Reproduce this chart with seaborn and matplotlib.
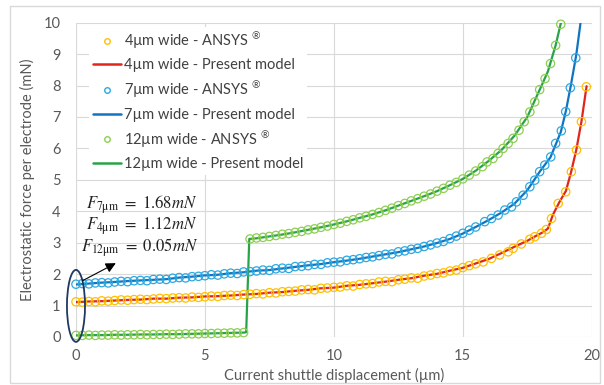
import matplotlib
matplotlib.use("Agg")
import matplotlib.pyplot as plt
from matplotlib.lines import Line2D
from matplotlib.patches import Ellipse, Rectangle
import seaborn as sns

# ---- 4um wide electrode ----
ansys4_x = [0, 0.25, 0.5, 0.75, 1, 1.25, 1.5, 1.75, 2, 2.25, 2.5, 2.75, 3, 3.25, 3.5, 3.75,
            4, 4.25, 4.5, 4.75, 5, 5.25, 5.5, 5.75, 6, 6.25, 6.5, 6.75, 7, 7.25, 7.5, 7.75,
            8, 8.25, 8.5, 8.75, 9, 9.25, 9.5, 9.75, 10, 10.25, 10.5, 10.75, 11, 11.25, 11.5, 11.75,
            12, 12.25, 12.5, 12.75, 13, 13.25, 13.5, 13.75, 14, 14.25, 14.5, 14.75, 15, 15.25, 15.5,
            15.79, 16.11, 16.43, 16.76, 16.95, 17.27, 17.6, 17.79, 18.05, 18.24, 18.44, 18.7,
            18.99, 19.21, 19.41, 19.6, 19.79]
ansys4_y = [1.12, 1.11, 1.13, 1.12, 1.15, 1.14, 1.16, 1.18, 1.17, 1.19,
            1.20, 1.19, 1.21, 1.23, 1.22, 1.24, 1.25, 1.24, 1.27, 1.26,
            1.28, 1.30, 1.29, 1.32, 1.33, 1.32, 1.35, 1.36, 1.38, 1.37,
            1.41, 1.40, 1.44, 1.45, 1.46, 1.50, 1.51, 1.50, 1.55, 1.56,
            1.58, 1.59, 1.63, 1.62, 1.67, 1.69, 1.70, 1.75, 1.77, 1.76,
            1.82, 1.84, 1.88, 1.87, 1.94, 1.97, 2.02, 2.04, 2.10, 2.13,
            2.21, 2.27, 2.33,
            2.39, 2.50, 2.61, 2.71, 2.82, 2.96, 3.11, 3.19, 3.30, 3.42, 3.77, 4.25,
            4.62, 5.26, 5.95, 6.85, 7.96]
model4_x = [0, 0.5, 1, 1.5, 2, 2.5, 3, 3.5, 4, 4.5, 5, 5.5, 6, 6.5, 7, 7.5, 8, 8.5, 9, 9.5,
            10, 10.5, 11, 11.5, 12, 12.5, 13, 13.5, 14, 14.5, 15, 15.5, 16,
            16.5, 17, 17.5, 17.8, 18.1, 18.3, 18.5, 18.75, 19, 19.2, 19.4, 19.6, 19.8]
model4_y = [1.11, 1.13, 1.14, 1.16, 1.18, 1.19, 1.22, 1.22, 1.25, 1.26,
            1.29, 1.30, 1.32, 1.35, 1.37, 1.41, 1.43, 1.47, 1.50, 1.55,
            1.57, 1.63, 1.66, 1.71, 1.76, 1.82, 1.87, 1.95, 2.01, 2.11,
            2.20, 2.34, 2.48,
            2.67, 2.87, 3.06, 3.20, 3.33, 3.45, 3.90, 4.30, 4.65, 5.25, 5.95, 6.85, 7.98]

# ---- 7um wide electrode ----
ansys7_x = [0, 0.25, 0.5, 0.75, 1, 1.25, 1.5, 1.75, 2, 2.25, 2.5, 2.75, 3, 3.25, 3.5, 3.75,
            4, 4.25, 4.5, 4.75, 5, 5.25, 5.5, 5.75, 6, 6.25, 6.5, 6.75, 7, 7.25, 7.5, 7.75,
            8, 8.25, 8.5, 8.75, 9, 9.25, 9.5, 9.75, 10, 10.25, 10.5, 10.75, 11, 11.25, 11.5, 11.75,
            12, 12.25, 12.5, 12.75, 13, 13.25, 13.5, 13.75, 14, 14.25, 14.5, 14.75, 15, 15.25, 15.5,
            15.85, 16.11, 16.37, 16.63, 16.89, 17.08, 17.34, 17.6, 17.79, 17.98, 18.18, 18.41,
            18.6, 18.82, 18.99, 19.17, 19.38]
ansys7_y = [1.68, 1.70, 1.69, 1.72, 1.73, 1.72, 1.75, 1.77, 1.76, 1.79,
            1.80, 1.79, 1.83, 1.84, 1.83, 1.87, 1.89, 1.88, 1.92, 1.93,
            1.95, 1.98, 1.97, 2.01, 2.03, 2.02, 2.07, 2.08, 2.10, 2.13,
            2.12, 2.17, 2.19, 2.18, 2.24, 2.25, 2.27, 2.31, 2.31, 2.36,
            2.38, 2.39, 2.44, 2.46, 2.49, 2.53, 2.55, 2.59, 2.63, 2.64,
            2.71, 2.74, 2.79, 2.82, 2.88, 2.93, 2.99, 3.04, 3.13, 3.21,
            3.30, 3.40, 3.50,
            3.67, 3.77, 3.88, 4.04, 4.14, 4.30, 4.51, 4.78, 4.99, 5.26, 5.47, 5.73,
            6.16, 6.56, 7.17, 7.93, 8.88]
model7_x = [0, 0.5, 1, 1.5, 2, 2.5, 3, 3.5, 4, 4.5, 5, 5.5, 6, 6.5, 7, 7.5, 8, 8.5, 9, 9.5,
            10, 10.5, 11, 11.5, 12, 12.5, 13, 13.5, 14, 14.5, 15, 15.5, 16,
            16.5, 17, 17.5, 18, 18.4, 18.8, 19.0, 19.2, 19.4, 19.55, 19.62]
model7_y = [1.67, 1.70, 1.73, 1.75, 1.78, 1.80, 1.82, 1.84, 1.89, 1.92,
            1.96, 1.98, 2.03, 2.06, 2.11, 2.13, 2.18, 2.23, 2.28, 2.32,
            2.38, 2.43, 2.49, 2.56, 2.63, 2.70, 2.79, 2.88, 2.99, 3.12,
            3.29, 3.50, 3.72,
            3.96, 4.24, 4.67, 5.28, 5.72, 6.52, 7.20, 8.05, 8.98, 9.90, 10.40]

# ---- 12um wide electrode ----
ansys12_x = [0, 0.25, 0.5, 0.75, 1, 1.25, 1.5, 1.75, 2, 2.25, 2.5, 2.75, 3, 3.25, 3.5, 3.75,
             4, 4.25, 4.5, 4.75, 5, 5.25, 5.5, 5.75, 6, 6.25, 6.5,
             6.75, 7, 7.25, 7.5, 7.75, 8, 8.25, 8.5, 8.75, 9, 9.25, 9.5, 9.75, 10, 10.25, 10.5,
             10.75, 11, 11.25, 11.5, 11.75, 12, 12.25, 12.5, 12.75, 13, 13.25, 13.5, 13.75, 14,
             14.25, 14.5, 14.75, 15, 15.25, 15.5,
             15.76, 15.94, 16.17, 16.37, 16.56, 16.76, 16.95, 17.18, 17.38, 17.6, 17.79, 17.98,
             18.19, 18.4, 18.6, 18.8]
ansys12_y = [0.05, 0.05, 0.06, 0.05, 0.06, 0.06, 0.07, 0.06, 0.07, 0.07,
             0.08, 0.07, 0.08, 0.08, 0.09, 0.08, 0.09, 0.10, 0.10, 0.10,
             0.11, 0.11, 0.12, 0.12, 0.13, 0.13, 0.14,
             3.12, 3.15, 3.17, 3.20, 3.23, 3.27, 3.29, 3.33, 3.36, 3.41,
             3.44, 3.49, 3.53, 3.58, 3.62, 3.68, 3.73, 3.79, 3.84, 3.90,
             3.96, 4.03, 4.10, 4.18, 4.25, 4.33, 4.40, 4.48, 4.55, 4.64,
             4.73, 4.83, 4.92, 5.03, 5.15, 5.28,
             5.42, 5.57, 5.68, 5.84, 6.00, 6.16, 6.32, 6.58, 6.85, 7.16, 7.48, 7.87,
             8.22, 8.70, 9.28, 9.95]
model12_x = [0, 0.5, 1, 1.5, 2, 2.5, 3, 3.5, 4, 4.5, 5, 5.5, 6, 6.5, 6.6, 6.72,
             7, 7.5, 8, 8.5, 9, 9.5, 10, 10.5, 11, 11.5, 12, 12.5, 13, 13.5, 14, 14.5, 15, 15.5,
             16, 16.5, 17, 17.5, 18, 18.3, 18.6, 18.82]
model12_y = [0.05, 0.06, 0.06, 0.07, 0.07, 0.08, 0.08, 0.09, 0.09, 0.10, 0.11, 0.12, 0.13, 0.14,
             0.15, 3.12,
             3.14, 3.20, 3.26, 3.33, 3.41, 3.49, 3.58, 3.68, 3.79, 3.90, 4.03, 4.18, 4.33, 4.48,
             4.64, 4.83, 5.03, 5.29,
             5.60, 5.95, 6.40, 7.00, 7.90, 8.45, 9.28, 10.05]

labels = [r"4µm wide - ANSYS $^{\mathregular{®}}$", "4µm wide - Present model",
          r"7µm wide - ANSYS $^{\mathregular{®}}$", "7µm wide - Present model",
          r"12µm wide - ANSYS $^{\mathregular{®}}$", "12µm wide - Present model"]

sns.set_style("white")
plt.rcParams['font.family'] = ['Lato', 'DejaVu Sans']
plt.rcParams['mathtext.fontset'] = 'stix'

fig = plt.figure(figsize=(6.04, 3.85), dpi=100)
ax = fig.add_axes([0.1258, 0.1247, 0.8539, 0.8163])

series = [
    (ansys4_x, ansys4_y, model4_x, model4_y, '#FFC000', '#E0261B'),
    (ansys7_x, ansys7_y, model7_x, model7_y, '#2EA8E0', '#0F75C3'),
    (ansys12_x, ansys12_y, model12_x, model12_y, '#8DCF50', '#27A349'),
]
for ax_x, ax_y, m_x, m_y, c_pts, c_line in series:
    sns.lineplot(x=m_x, y=m_y, sort=False, estimator=None, color=c_line, lw=1.6,
                 ax=ax, legend=False, zorder=3)
    sns.scatterplot(x=ax_x, y=ax_y, marker='o', s=36, facecolor='none', edgecolor=c_pts,
                    linewidth=0.9, ax=ax, legend=False, zorder=4, clip_on=False)

ax.set_xlim(0, 20)
ax.set_ylim(0, 10)
ax.set_xticks([0, 5, 10, 15, 20])
ax.set_yticks(range(0, 11))
ax.grid(True, color='#D9D9D9', lw=0.8)
ax.set_axisbelow(True)
for s in ax.spines.values():
    s.set_visible(False)
ax.tick_params(length=0, labelsize=10.5, labelcolor='#595959')
ax.tick_params(axis='y', pad=11)
ax.tick_params(axis='x', pad=9)
ax.set_xlabel("Current shuttle displacement (µm)", fontsize=10.5, color='#595959', labelpad=3)
ax.set_ylabel("Electrostatic force per electrode (mN)", fontsize=10.5, color='#595959', labelpad=6)

handles = []
for _, _, _, _, c_pts, c_line in series:
    handles.append(Line2D([], [], ls='none', marker='o', ms=4, mfc='none', mec=c_pts, mew=1))
    handles.append(Line2D([], [], color=c_line, lw=1.8))
leg = ax.legend(handles, labels, loc='upper left', bbox_to_anchor=(0.012, 1.01),
                frameon=True, facecolor='white', edgecolor='none', framealpha=1,
                fontsize=10.5, handlelength=1.9, handletextpad=0.2, labelspacing=0.5,
                borderpad=0.25)
for t in leg.get_texts():
    t.set_color('#404040')

# annotation: starting forces
ax.add_patch(Ellipse((0.0, 0.99), width=0.7, height=2.29, fill=False, ec='#1F3864',
                     lw=1.3, clip_on=False, zorder=5))
ax.annotate('', xy=(1.64, 2.39), xytext=(0.16, 1.75),
            arrowprops=dict(arrowstyle='-|>', color='black', lw=0.8, mutation_scale=15),
            zorder=6)
ax.text(2.45, 3.53,
        r'$F_{7\mathrm{\mu m}}\ =\ 1.68mN$' + '\n' +
        r'$F_{4\mathrm{\mu m}}\ =\ 1.12mN$' + '\n' +
        r'$F_{12\mathrm{\mu m}}\ =\ 0.05mN$',
        ha='center', va='center', multialignment='right', fontsize=12, color='#222222',
        linespacing=0.95, zorder=6)

fig.patches.append(Rectangle((10 / 604, 2 / 385), 590 / 604, 377 / 385,
                             transform=fig.transFigure, fill=False, ec='#D9D9D9', lw=1))

fig.savefig("out.png", dpi=100)
